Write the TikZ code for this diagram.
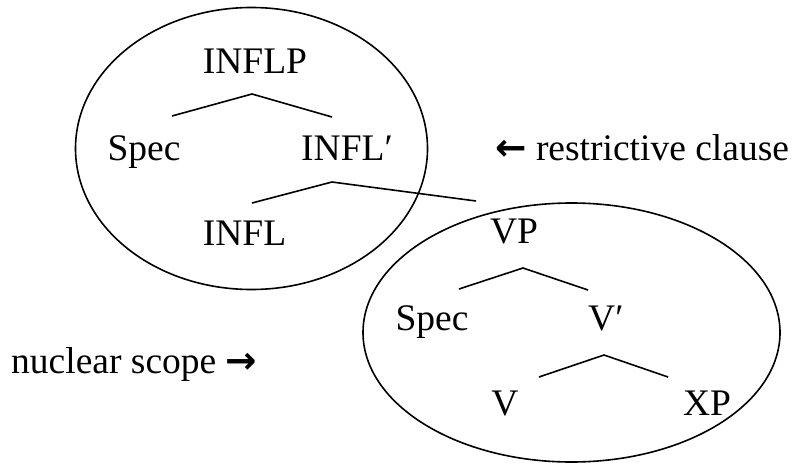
\documentclass[tikz,border=0pt]{standalone}
\usepackage{fontspec}
\setmainfont{Liberation Serif}
\newfontfamily\arrowfont{DejaVu Sans Bold}
\begin{document}
\begin{tikzpicture}[x=1pt,y=-1pt,
  lbl/.style={inner sep=0pt,anchor=base,font=\fontsize{37.5}{42}\selectfont},
  lblw/.style={inner sep=0pt,anchor=base west,font=\fontsize{37.5}{42}\selectfont},
  branch/.style={line width=1.6pt},
  blob/.style={line width=1.6pt}]
\useasboundingbox (0,0) rectangle (794,463);
% ellipses
\draw[blob] (251.5,148.5) ellipse [x radius=176, y radius=141];
\draw[blob] (571.5,332.5) ellipse [x radius=208.5, y radius=129.5];
% labels
\node[lbl] (inflp) at (255,73) {INFLP};
\node[lbl] (spec1) at (144,160) {Spec};
\node[lblw] (inflbar) at (301,160) {INFL′};
\node[lbl] (infl) at (244.5,245) {INFL};
\node[lbl] (vp) at (514,243) {VP};
\node[lbl] (spec2) at (432,330) {Spec};
\node[lblw] (vbar) at (588,330) {V′};
\node[lbl] (v) at (505,415) {V};
\node[lbl] (xp) at (707,415) {XP};
\node[lblw] (restr) at (495,160) {{\arrowfont ←} restrictive clause};
\node[lblw] (nucl) at (11,373) {nuclear scope {\arrowfont →}};
% branch points
\coordinate (a1) at (252,94);  \coordinate (l1) at (172,116); \coordinate (r1) at (332,117);
\coordinate (a2) at (332,182); \coordinate (l2) at (252,203); \coordinate (r2) at (476,201);
\coordinate (a3) at (523,268); \coordinate (l3) at (459,289); \coordinate (r3) at (588,290);
\coordinate (a4) at (604,355); \coordinate (l4) at (539,377); \coordinate (r4) at (668,377);
\draw[branch] (l1) -- (a1) -- (r1);
\draw[branch] (l2) -- (a2) -- (r2);
\draw[branch] (l3) -- (a3) -- (r3);
\draw[branch] (l4) -- (a4) -- (r4);
\end{tikzpicture}
\end{document}
